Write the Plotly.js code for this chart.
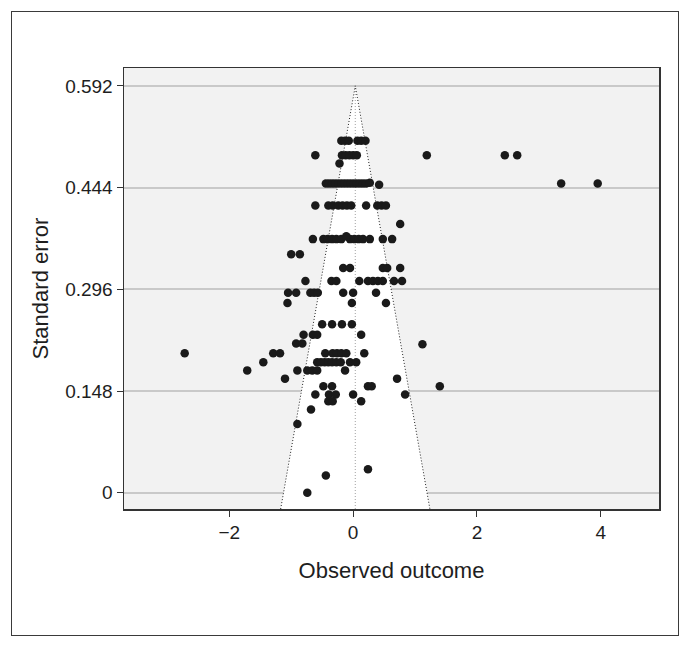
<!DOCTYPE html>
<html>
<head>
<meta charset="utf-8">
<script src="https://cdn.plot.ly/plotly-3.0.1.min.js"></script>
<style>
  html, body { margin: 0; padding: 0; background: #ffffff; }
  #chart { position: absolute; left: 0; top: 0; width: 691px; height: 652px; }
  #frame { position: absolute; left: 11px; top: 11px; width: 666px; height: 623px;
           border: 1.5px solid #3a3a3a; pointer-events: none; }
</style>
</head>
<body>
<div id="chart"></div>
<div id="frame"></div>
<script>
// Observed outcomes (x) and their standard errors (y), read row by row
const obsX = [
  -0.19, -0.13, -0.07, 0.07, 0.13, 0.20,
  -0.61, -0.18, -0.12, -0.06, 0.00, 0.06, 1.19, 2.45, 2.65,
  -0.22,
  -0.44, -0.39, -0.34, -0.29, -0.24, -0.19, -0.14, -0.09, -0.04, 0.01, 0.06, 0.11, 0.16, 0.21, 0.27, 0.42, 3.36, 3.95,
  -0.61, -0.40, -0.33, -0.24, -0.17, -0.10, -0.03, 0.21, 0.39, 0.46, 0.53,
  0.76,
  -0.65, -0.48, -0.41, -0.34, -0.27, -0.19, -0.05, 0.02, 0.09, 0.16, 0.27, 0.48, 0.63,
  -0.11,
  -1.00, -0.86,
  -0.16, -0.05, 0.48, 0.55, 0.76,
  -0.77, -0.35, -0.27, 0.10, 0.24, 0.32, 0.40, 0.48, 0.66, 0.79,
  -1.05, -0.92, -0.69, -0.63, -0.57, -0.16, 0.00, 0.37,
  -1.06, -0.02, 0.53,
  -0.50, -0.34, -0.18, -0.02,
  -0.80, -0.65, -0.58, 0.13,
  -0.92, -0.82, 1.12,
  -2.72, -1.29, -1.18, -0.45, -0.33, -0.26, -0.19, -0.11, 0.18,
  -1.45, -0.58, -0.52, -0.46, -0.40, -0.34, -0.27, -0.20, -0.05, 0.05,
  -1.71, -0.90, -0.74, -0.66, -0.58, -0.13,
  -1.10, 0.71,
  -0.48, -0.34, 0.24, 0.30, 1.40,
  -0.61, -0.39, -0.28, 0.00, 0.84,
  -0.40, -0.33, 0.13,
  -0.68,
  -0.90,
  0.24,
  -0.44,
  -0.74
];
const obsSE = [
  0.512, 0.512, 0.512, 0.512, 0.512, 0.512,
  0.491, 0.491, 0.491, 0.491, 0.491, 0.491, 0.491, 0.491, 0.491,
  0.479,
  0.450, 0.450, 0.450, 0.450, 0.450, 0.450, 0.450, 0.450, 0.450, 0.450, 0.450, 0.450, 0.450, 0.450, 0.451, 0.448, 0.450, 0.450,
  0.418, 0.418, 0.418, 0.418, 0.418, 0.418, 0.418, 0.418, 0.418, 0.418, 0.418,
  0.391,
  0.369, 0.369, 0.369, 0.369, 0.369, 0.369, 0.369, 0.369, 0.369, 0.369, 0.369, 0.369, 0.369,
  0.373,
  0.347, 0.347,
  0.327, 0.327, 0.327, 0.327, 0.327,
  0.308, 0.308, 0.308, 0.308, 0.308, 0.308, 0.308, 0.308, 0.308, 0.308,
  0.291, 0.291, 0.291, 0.291, 0.291, 0.291, 0.291, 0.291,
  0.276, 0.276, 0.276,
  0.245, 0.245, 0.245, 0.245,
  0.230, 0.230, 0.230, 0.230,
  0.217, 0.217, 0.216,
  0.203, 0.203, 0.203, 0.203, 0.203, 0.203, 0.203, 0.203, 0.203,
  0.190, 0.190, 0.190, 0.190, 0.190, 0.190, 0.190, 0.190, 0.190, 0.190,
  0.178, 0.178, 0.178, 0.178, 0.178, 0.178,
  0.166, 0.166,
  0.155, 0.155, 0.155, 0.155, 0.155,
  0.143, 0.143, 0.143, 0.143, 0.143,
  0.133, 0.133, 0.133,
  0.121,
  0.100,
  0.034,
  0.025,
  0.000
];
// Funnel (pseudo confidence region) vertices and centre line
const funnelX = [-1.17, 0.035, 1.24];
const funnelY = [-0.0237, 0.592, -0.0237];
const centreX = [0.035, 0.035];
const centreY = [-0.0237, 0.592];
// Axis ticks
const yTickVals = [0, 0.148, 0.296, 0.444, 0.592];
const yTickText = ["0", "0.148", "0.296", "0.444", "0.592"];
const xTickVals = [-2, 0, 2, 4];
const xTickText = ["\u22122", "0", "2", "4"];

const font = "'Liberation Sans', Arial, Helvetica, sans-serif";

const traces = [
  { x: funnelX, y: funnelY, type: 'scatter', mode: 'lines', fill: 'toself',
    fillcolor: '#ffffff', line: { width: 0, color: 'rgba(0,0,0,0)' }, hoverinfo: 'skip', showlegend: false },
  { x: centreX, y: centreY, type: 'scatter', mode: 'lines',
    line: { color: '#a0a0a0', width: 1, dash: '1px,2px' }, hoverinfo: 'skip', showlegend: false },
  { x: funnelX, y: funnelY, type: 'scatter', mode: 'lines',
    line: { color: '#222222', width: 1, dash: '1px,2px' }, hoverinfo: 'skip', showlegend: false },
  { x: obsX, y: obsSE, type: 'scatter', mode: 'markers',
    marker: { color: '#1a1a1a', size: 8.5 }, showlegend: false }
];

const layout = {
  width: 691, height: 652,
  margin: { l: 123.5, r: 31.7, t: 68, b: 143 },
  paper_bgcolor: '#ffffff',
  plot_bgcolor: '#f2f2f2',
  font: { family: font, color: '#1e1e1e', size: 19 },
  showlegend: false,
  xaxis: {
    range: [-3.70, 4.94], tickvals: xTickVals, ticktext: xTickText,
    showgrid: false, zeroline: false,
    showline: true, mirror: true, linecolor: '#333333', linewidth: 1.5,
    ticks: 'outside', ticklen: 6, tickcolor: '#333333', tickwidth: 1,
    tickfont: { family: font, size: 19, color: '#1e1e1e' },
    title: { text: 'Observed outcome', font: { family: font, size: 22, color: '#1e1e1e' }, standoff: 20 }
  },
  yaxis: {
    range: [-0.0237, 0.618], tickvals: yTickVals, ticktext: yTickText,
    showgrid: true, gridcolor: '#c9c9c9', gridwidth: 2, zeroline: false,
    showline: true, mirror: true, linecolor: '#333333', linewidth: 1.5,
    ticks: 'outside', ticklen: 6, tickcolor: '#333333', tickwidth: 1,
    tickfont: { family: font, size: 19, color: '#1e1e1e' },
    title: { text: 'Standard error', font: { family: font, size: 22, color: '#1e1e1e' }, standoff: 10 }
  }
};

Plotly.newPlot('chart', traces, layout, { displayModeBar: false, staticPlot: true });
</script>
</body>
</html>
